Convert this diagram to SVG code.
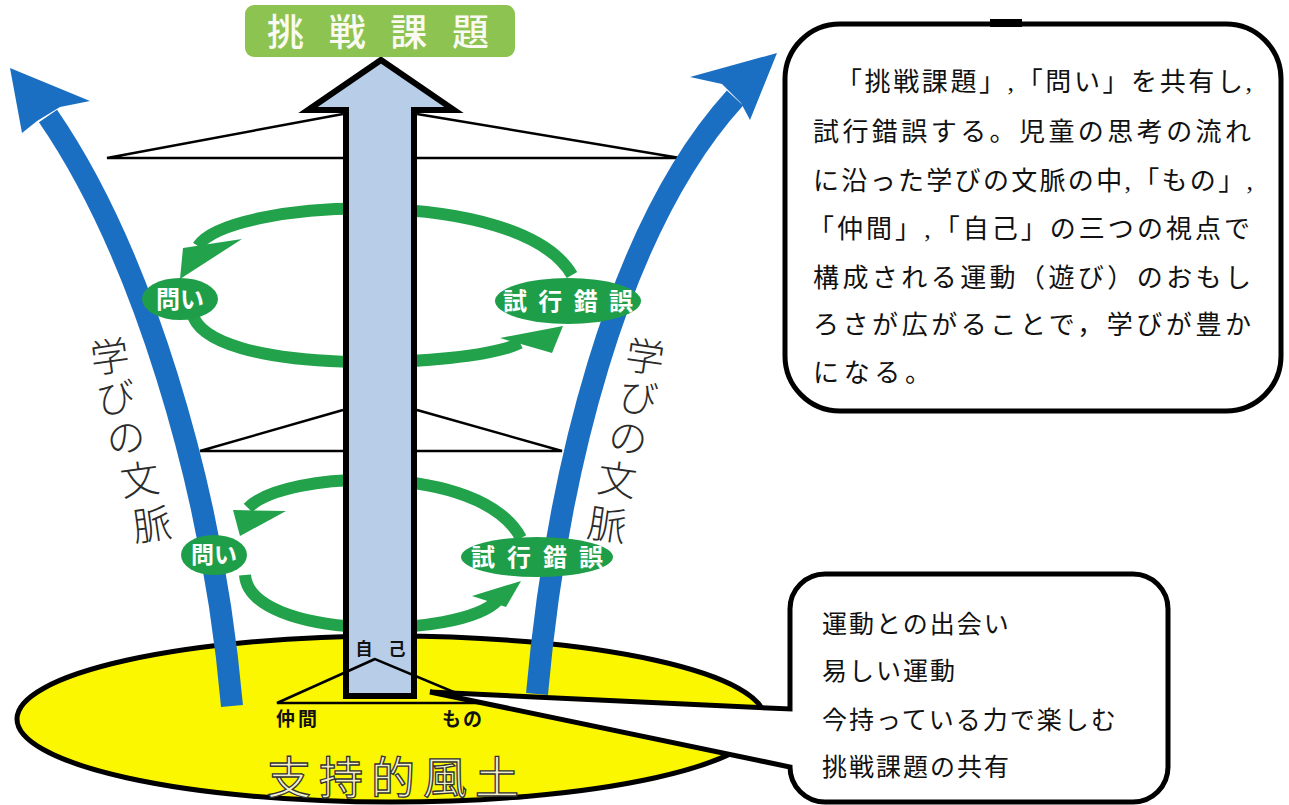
<svg xmlns="http://www.w3.org/2000/svg" width="1289" height="805" viewBox="0 0 1289 805">
<style>
.ln{fill:none;stroke:#000;stroke-width:2.5}
.grn{fill:none;stroke:#22a34b;stroke-width:12}
.gh{fill:#22a34b}
.blue{fill:none;stroke:#1b6fc3;stroke-width:22}
.bh{fill:#1b6fc3}
.el{fill:#1f9e4a}
.et{font-family:'Noto Sans CJK JP',sans-serif;font-weight:700;fill:#fff;text-anchor:middle}
.vt{font-family:'Noto Sans CJK JP',sans-serif;font-weight:300;font-size:39px;fill:#2b2b2b;text-anchor:middle}
.bt{font-family:'Liberation Serif','Noto Sans CJK JP',serif;font-size:26px;fill:#111}
.bt2{font-family:'Liberation Serif','Noto Sans CJK JP',serif;font-size:25px;fill:#111;letter-spacing:2px}
.box{fill:#fff;stroke:#000;stroke-width:5}
.lb{font-family:'Noto Sans CJK JP',sans-serif;font-weight:700;fill:#111;text-anchor:middle}
</style>
<rect width="1289" height="805" fill="#fff"/>

<g id="ground">
<ellipse cx="391" cy="719" rx="374" ry="83" fill="#fbf700" stroke="#000" stroke-width="5"/>
<text x="393" y="794" font-family="'Noto Sans CJK JP',sans-serif" font-size="44" fill="#f2f0cc" stroke="#333" stroke-width="1.3" text-anchor="middle" textLength="252" lengthAdjust="spacing">支持的風土</text>
</g>

<g id="connectors">
<g id="roof-lines">
<polyline class="ln" points="343,114 107,158 680,158 417,114"/>
<polyline class="ln" points="343,410 200,451 562,451 417,410"/>
</g>
<g id="loop-upper">
<path class="grn" d="M198,246 C230,198 520,185 572,275"/>
<polygon class="gh" points="183,248 242,239 180,279"/>
<path class="grn" d="M192,312 C205,378 470,368 520,343"/>
<polygon class="gh" points="500,338 563,326 552,353"/>
</g>
<g id="loop-lower">
<path class="grn" d="M248,508 C285,470 480,462 521,538"/>
<polygon class="gh" points="233,510 286,511 240,536"/>
<path class="grn" d="M245,575 C250,640 460,640 498,600"/>
<polygon class="gh" points="472,596 521,581 506,607"/>
</g>
<g id="context-left">
<path class="blue" d="M232,706 C212,480 140,250 48,116"/>
<polygon class="bh" points="10,68 90,101 60,107 37,121 22,133"/>
</g>
<g id="context-right">
<path class="blue" d="M537,694 C556,480 615,230 735,98"/>
<polygon class="bh" points="777,53 690,77 722,84 741,103 750,120"/>
</g>
</g>

<g id="main-arrow">
<path d="M381,60 L454,110 L414,110 L414,696 L346,696 L346,110 L308,110 Z" fill="#b7cde8" stroke="#000" stroke-width="6" stroke-linejoin="miter"/>
</g>

<g id="label-context-left">
<text class="vt" x="110" y="371" transform="rotate(-8 110 357)">学</text>
<text class="vt" x="116" y="412" transform="rotate(-8 116 398)">び</text>
<text class="vt" x="126" y="452" transform="rotate(-8 126 438)">の</text>
<text class="vt" x="140" y="494" transform="rotate(-8 140 480)">文</text>
<text class="vt" x="152" y="539" transform="rotate(-8 152 525)">脈</text>
</g>
<g id="label-context-right">
<text class="vt" x="645" y="371" transform="rotate(8 645 357)">学</text>
<text class="vt" x="638" y="412" transform="rotate(8 638 398)">び</text>
<text class="vt" x="628" y="452" transform="rotate(8 628 438)">の</text>
<text class="vt" x="617" y="494" transform="rotate(8 617 480)">文</text>
<text class="vt" x="607" y="539" transform="rotate(8 607 525)">脈</text>
</g>

<g id="node-toi-upper">
<ellipse class="el" cx="180" cy="299" rx="38" ry="21"/>
<text class="et" x="180" y="308" font-size="24">問い</text>
</g>
<g id="node-shikou-upper">
<ellipse class="el" cx="568" cy="301" rx="73" ry="23"/>
<text class="et" x="568" y="310" font-size="24" textLength="130" lengthAdjust="spacing">試行錯誤</text>
</g>
<g id="node-toi-lower">
<ellipse class="el" cx="214" cy="555" rx="33" ry="20"/>
<text class="et" x="214" y="563" font-size="23">問い</text>
</g>
<g id="node-shikou-lower">
<ellipse class="el" cx="537" cy="557" rx="76" ry="20"/>
<text class="et" x="537" y="566" font-size="24" textLength="132" lengthAdjust="spacing">試行錯誤</text>
</g>

<g id="node-triangle">
<polygon points="375,659 277,703 480,703" fill="none" stroke="#000" stroke-width="2.5"/>
<text class="lb" x="381" y="655" font-size="17"><tspan x="364">自</tspan><tspan x="397">己</tspan></text>
<text class="lb" x="298" y="726" font-size="19" letter-spacing="3">仲間</text>
<text class="lb" x="463" y="726" font-size="19" letter-spacing="2">もの</text>
</g>

<g id="callout-lower">
<path class="box" d="M825,574 H1133 A35,35 0 0 1 1168,609 V767 A35,35 0 0 1 1133,802 H825 A35,35 0 0 1 790,767 L430,692 L790,709 V609 A35,35 0 0 1 825,574 Z"/>
<text class="bt2" x="822" y="633">運動との出会い</text>
<text class="bt2" x="822" y="680">易しい運動</text>
<text class="bt2" x="822" y="729">今持っている力で楽しむ</text>
<text class="bt2" x="822" y="776">挑戦課題の共有</text>
</g>

<g id="callout-upper">
<rect class="box" x="785" y="24" width="496" height="387" rx="55"/>
<line x1="990" y1="23" x2="1022" y2="23" stroke="#000" stroke-width="8"/>
<text class="bt" x="836" y="91" textLength="416" lengthAdjust="spacing">「挑戦課題」,「問い」を共有し,</text>
<text class="bt" x="813" y="141" textLength="438" lengthAdjust="spacing">試行錯誤する。児童の思考の流れ</text>
<text class="bt" x="813" y="190" textLength="440" lengthAdjust="spacing">に沿った学びの文脈の中,「もの」,</text>
<text class="bt" x="808" y="238" textLength="442" lengthAdjust="spacing">「仲間」,「自己」の三つの視点で</text>
<text class="bt" x="813" y="287" textLength="438" lengthAdjust="spacing">構成される運動（遊び）のおもし</text>
<text class="bt" x="813" y="334" textLength="438" lengthAdjust="spacing">ろさが広がることで，学びが豊か</text>
<text class="bt" x="813" y="382" textLength="118" lengthAdjust="spacing">になる。</text>
</g>

<g id="node-goal">
<rect x="245" y="5" width="270" height="52" rx="9" fill="#8dc351"/>
<text x="378" y="46" font-family="'Noto Sans CJK JP',sans-serif" font-size="37" font-weight="500" fill="#fafaf2" text-anchor="middle" textLength="222" lengthAdjust="spacing">挑戦課題</text>
</g>
</svg>
